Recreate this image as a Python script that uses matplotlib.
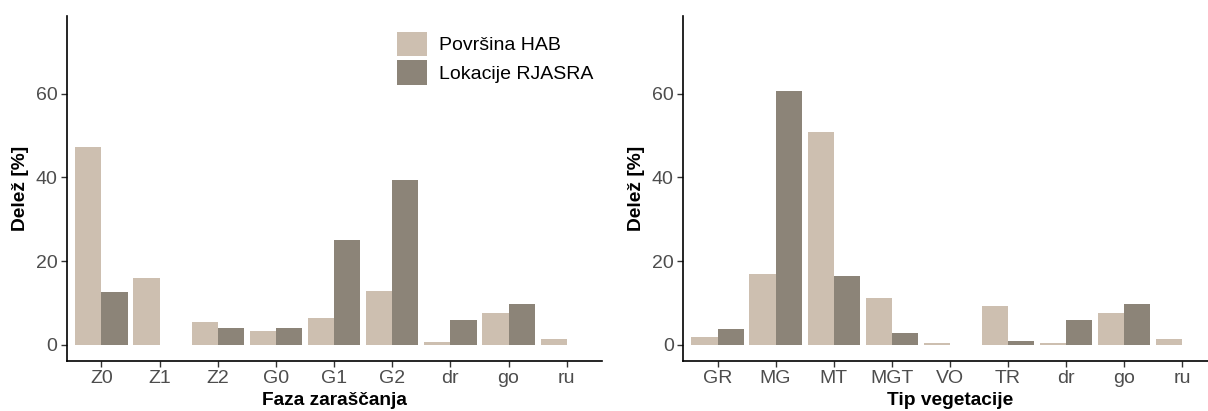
import numpy as np
import matplotlib
matplotlib.use('Agg')
import matplotlib.pyplot as plt
from matplotlib.patches import Patch

plt.rcParams['font.family'] = ['Liberation Sans', 'DejaVu Sans']

# data (share in %)
faza = ['Z0', 'Z1', 'Z2', 'G0', 'G1', 'G2', 'dr', 'go', 'ru']
faza_hab = [47.2, 15.9, 5.4, 3.2, 6.4, 12.8, 0.6, 7.5, 1.45]
faza_rjasra = [12.5, 0.0, 3.9, 3.9, 25.0, 39.4, 5.8, 9.7, 0.0]

tip = ['GR', 'MG', 'MT', 'MGT', 'VO', 'TR', 'dr', 'go', 'ru']
tip_hab = [1.9, 16.9, 50.9, 11.1, 0.5, 9.3, 0.5, 7.5, 1.45]
tip_rjasra = [3.8, 60.6, 16.4, 2.9, 0.0, 1.0, 5.8, 9.7, 0.0]

series_names = ['Površina HAB', 'Lokacije RJASRA']
col_light = '#CDBFB0'
col_dark = '#8C8478'

W, H = 1208, 411
fig = plt.figure(figsize=(W / 100, H / 100), dpi=100)

ax1 = fig.add_axes([66.5 / W, 1 - 360.7 / H, 535.1 / W, 345.0 / H])
ax2 = fig.add_axes([682.7 / W, 1 - 360.7 / H, 534.3 / W, 345.0 / H])


def draw_panel(ax, cats, hab, rjasra, xlabel):
    x = np.arange(1, len(cats) + 1)
    w = 0.45
    ax.bar(x - w / 2, hab, width=w, color=col_light, linewidth=0)
    ax.bar(x + w / 2, rjasra, width=w, color=col_dark, linewidth=0)
    ax.set_xlim(0.4, len(cats) + 0.6)
    ax.set_ylim(-3.83, 78.7)
    ax.set_xticks(x)
    ax.set_xticklabels(cats)
    ax.set_yticks([0, 20, 40, 60])
    for s in ['top', 'right']:
        ax.spines[s].set_visible(False)
    for s in ['left', 'bottom']:
        ax.spines[s].set_color('black')
        ax.spines[s].set_linewidth(1.2)
    ax.tick_params(axis='both', labelsize=14, labelcolor='#4D4D4D',
                   color='#333333', length=4, width=1, pad=2.5)
    ax.set_xlabel(xlabel, fontsize=13.8, fontweight='bold', color='black')
    ax.set_ylabel('Delež [%]', fontsize=13.8, fontweight='bold', color='black')
    ax.xaxis.set_label_coords(0.5, -0.09)
    ax.yaxis.set_label_coords(-0.071, 0.5)


draw_panel(ax1, faza, faza_hab, faza_rjasra, 'Faza zaraščanja')
draw_panel(ax2, tip, tip_hab, tip_rjasra, 'Tip vegetacije')

handles = [Patch(facecolor=col_light, edgecolor='none'),
           Patch(facecolor=col_dark, edgecolor='none')]
ax1.legend(handles, series_names, loc='upper left',
           bbox_to_anchor=(396.7 / W, 1 - 31.7 / H),
           bbox_transform=fig.transFigure, frameon=False, fontsize=14,
           borderpad=0, borderaxespad=0, handlelength=1.58, handleheight=1.58,
           handletextpad=0.62, labelspacing=0.175)

fig.savefig('out.png', dpi=100)
